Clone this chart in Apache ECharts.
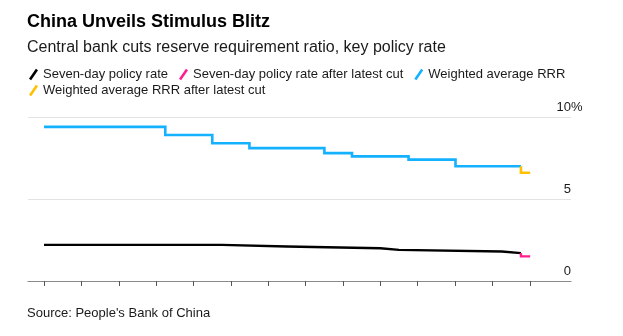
<!DOCTYPE html>
<html>
<head>
<meta charset="utf-8">
<script src="https://cdn.jsdelivr.net/npm/echarts@6/dist/echarts.min.js"></script>
<style>
html,body{margin:0;padding:0;background:#fff;}
#c{width:623px;height:336px;}
</style>
</head>
<body>
<div id="c"></div>
<script>
// Monthly observations (mid-month), change points of step series
const rrrMonths = ['2020-06','2021-07','2021-12','2022-04','2022-12','2023-03','2023-09','2024-02','2024-09'];
const rrrValues = [9.4, 8.9, 8.4, 8.1, 7.8, 7.6, 7.4, 7.0, 7.0];
const rrrCutMonths = ['2024-09','2024-10'];
const rrrCutValues = [7.0, 6.6];
const rateMonths = ['2020-06','2022-01','2022-08','2023-06','2023-08','2024-07','2024-09'];
const rateValues = [2.2, 2.1, 2.0, 1.9, 1.8, 1.7, 1.7];
const rateCutMonths = ['2024-09','2024-10'];
const rateCutValues = [1.7, 1.5];
const tickMonths = ['2020-06','2020-10','2021-02','2021-06','2021-10','2022-02','2022-06','2022-10','2023-02','2023-06','2023-10','2024-02','2024-06','2024-10'];
const yTicks = [0, 5, 10];
const yUnit = '%';
const seriesNames = ['Seven-day policy rate','Seven-day policy rate after latest cut','Weighted average RRR','Weighted average RRR after latest cut'];
const xRange = ['2020-04-24','2025-02-25'];

const P = s => echarts.time.parse(s.length === 7 ? s + '-15' : s);
const pairs = (m, v) => m.map((d, i) => [P(d), v[i]]);

const colors = ['#000000', '#ff1f8e', '#14b1ff', '#ffc000'];
const icon = 'path://M0,11 L7.5,0 L9.8,1.5 L2.3,12.5 Z';
const font = '"Liberation Sans", Arial, sans-serif';
const txt = '#1a1a1a';
const yMax = yTicks[yTicks.length - 1];
const labelBase = {verticalAlign: 'bottom', padding: [0, 0, 3, 0], showMinLabel: true, showMaxLabel: true,
  fontSize: 13, color: txt, fontFamily: font};

const chart = echarts.init(document.getElementById('c'), null, {renderer: 'canvas'});
chart.setOption({
  animation: false,
  backgroundColor: '#fff',
  textStyle: {fontFamily: font},
  title: [
    {text: 'China Unveils Stimulus Blitz', left: 27, top: 13, padding: 0,
     textStyle: {fontSize: 18, fontWeight: 'bold', color: '#000', fontFamily: font}},
    {text: 'Central bank cuts reserve requirement ratio, key policy rate', left: 27, top: 40, padding: 0,
     textStyle: {fontSize: 16, fontWeight: 'normal', color: txt, fontFamily: font}},
    {text: "Source: People's Bank of China", left: 27, top: 307, padding: 0,
     textStyle: {fontSize: 13, fontWeight: 'normal', color: txt, fontFamily: font}}
  ],
  legend: [
    {data: seriesNames.slice(0, 3), left: 29, top: 68, padding: 0, icon: icon, itemWidth: 9, itemHeight: 12, itemGap: 11,
     textStyle: {fontSize: 13, color: txt, fontFamily: font}, selectedMode: false},
    {data: seriesNames.slice(3), left: 29, top: 84, padding: 0, icon: icon, itemWidth: 9, itemHeight: 12, itemGap: 11,
     textStyle: {fontSize: 13, color: txt, fontFamily: font}, selectedMode: false}
  ],
  grid: {left: 28, right: 52, top: 117, bottom: 55, outerBoundsMode: 'none', containLabel: false},
  xAxis: {
    type: 'time',
    min: P(xRange[0]), max: P(xRange[1]),
    axisLine: {show: true, lineStyle: {color: '#8a8a8a', width: 1.2}},
    axisTick: {show: true, length: 5, customValues: tickMonths.map(P), lineStyle: {color: '#555', width: 1}},
    axisLabel: {show: false},
    splitLine: {show: false}
  },
  yAxis: [
    {
      type: 'value', position: 'right', min: 0, max: yMax, interval: 5,
      axisLine: {show: false}, axisTick: {show: false},
      splitLine: {show: true, lineStyle: {color: '#e3e3e3', width: 1.2}},
      axisLabel: Object.assign({inside: true, margin: 0, align: 'right',
        formatter: v => yTicks.indexOf(v) < 0 ? '' : String(v)}, labelBase)
    },
    {
      type: 'value', position: 'right', min: 0, max: yMax, interval: 5,
      axisLine: {show: false}, axisTick: {show: false}, splitLine: {show: false},
      axisLabel: Object.assign({inside: false, margin: 0, align: 'left',
        formatter: v => v === yMax ? yUnit : ''}, labelBase)
    }
  ],
  series: [
    {name: seriesNames[0], type: 'line', step: 'end', showSymbol: false, data: pairs(rateMonths, rateValues),
     lineStyle: {color: colors[0], width: 2.4, join: 'miter'}, itemStyle: {color: colors[0]}, z: 2},
    {name: seriesNames[2], type: 'line', step: 'end', showSymbol: false, data: pairs(rrrMonths, rrrValues),
     lineStyle: {color: colors[2], width: 2.6, join: 'miter'}, itemStyle: {color: colors[2]}, z: 2},
    {name: seriesNames[1], type: 'line', step: 'start', showSymbol: false, data: pairs(rateCutMonths, rateCutValues),
     lineStyle: {color: colors[1], width: 2.4, join: 'miter'}, itemStyle: {color: colors[1]}, z: 3},
    {name: seriesNames[3], type: 'line', step: 'start', showSymbol: false, data: pairs(rrrCutMonths, rrrCutValues),
     lineStyle: {color: colors[3], width: 2.6, join: 'miter'}, itemStyle: {color: colors[3]}, z: 3}
  ]
});
</script>
</body>
</html>
